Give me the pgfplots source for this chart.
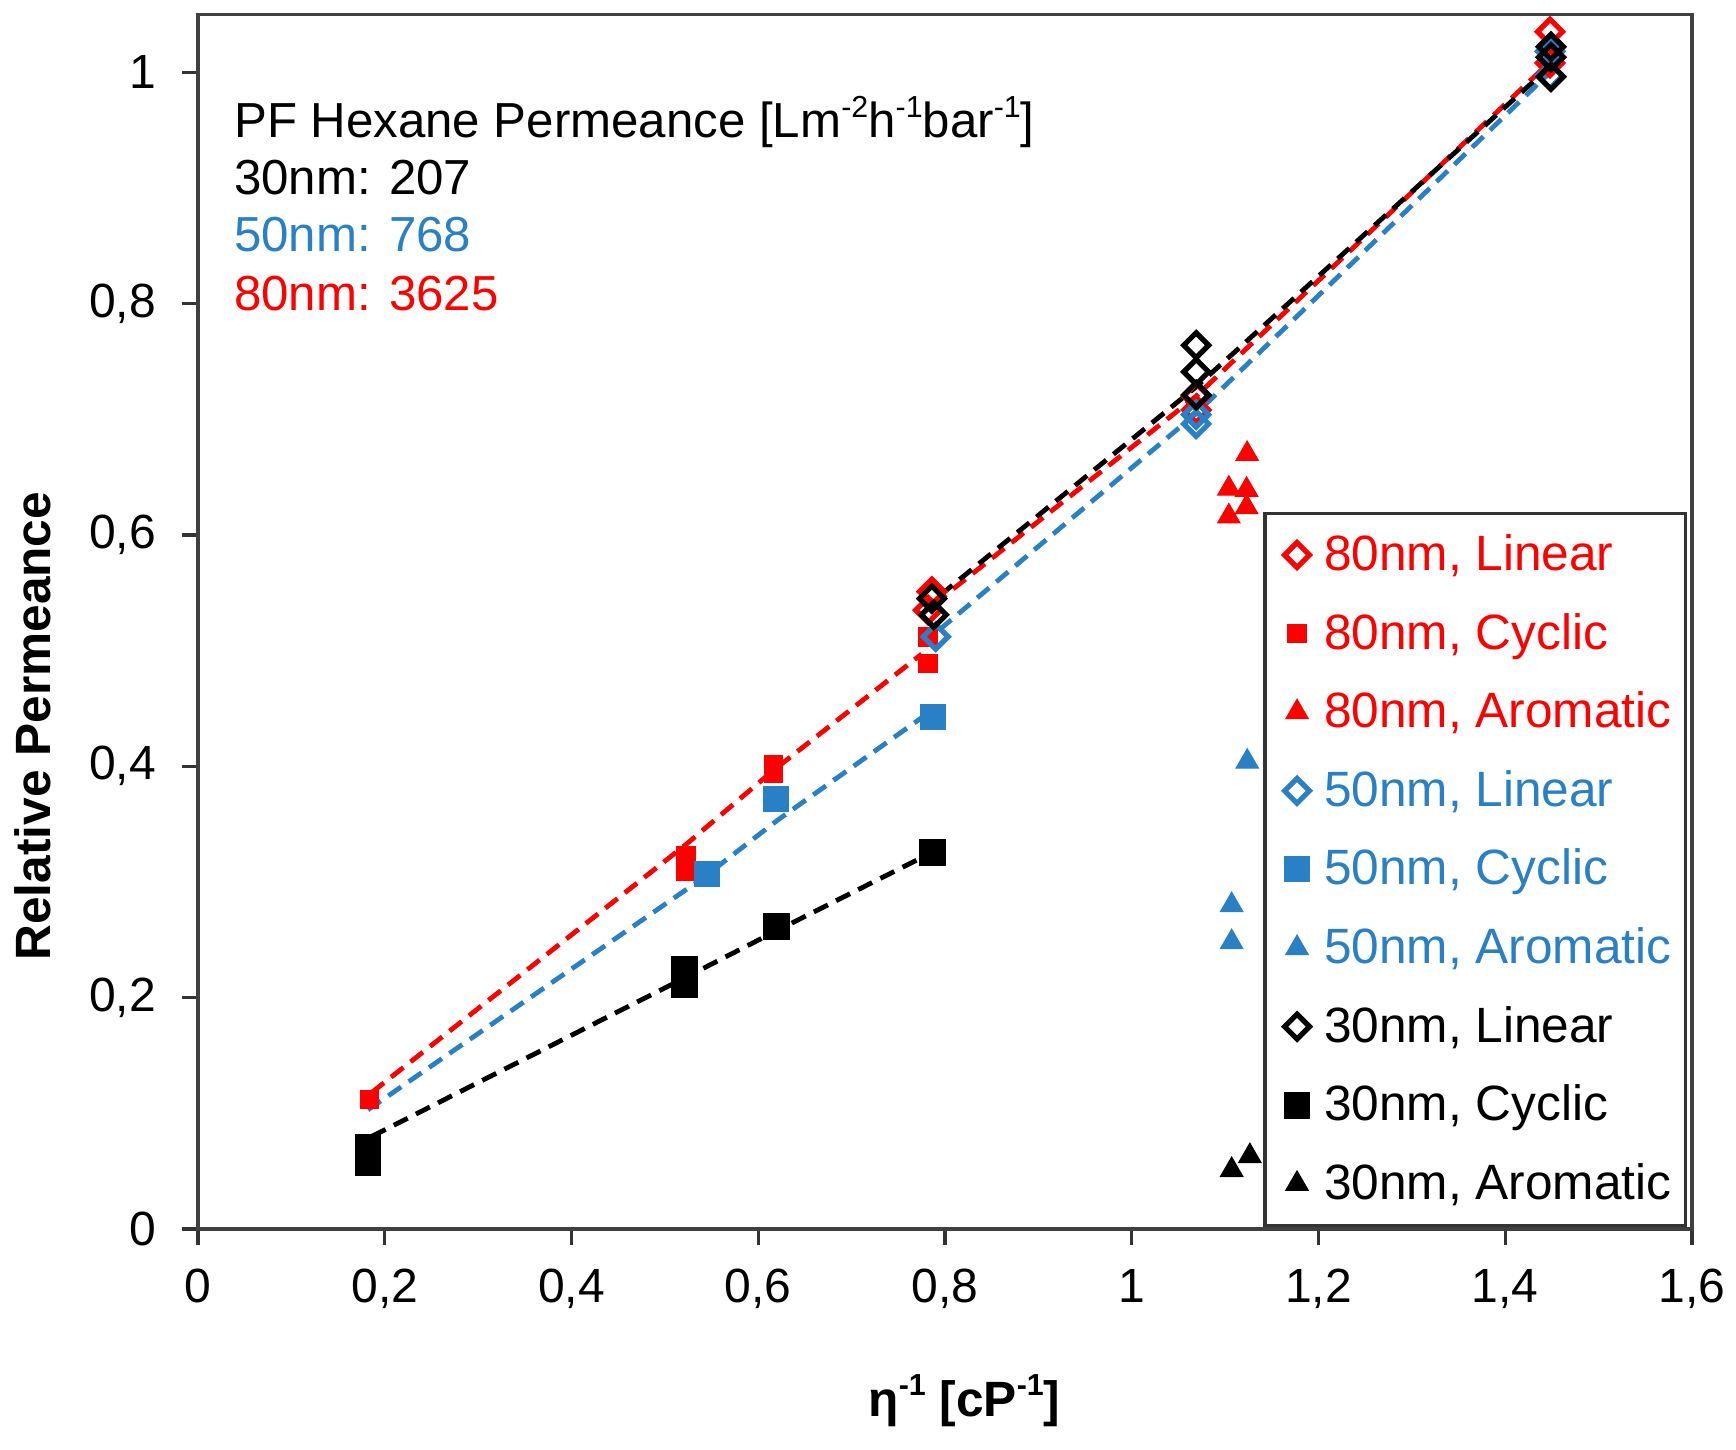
\documentclass[border=0pt]{standalone}
\usepackage{pgfplots}
\pgfplotsset{compat=1.18}
\usepackage{fontspec}
\setmainfont{Liberation Sans}
\definecolor{xred}{RGB}{255,0,0}
\definecolor{xblue}{RGB}{41,128,196}
\newcommand{\sps}[1]{\raisebox{0.42em}{\fontsize{7.6}{8}\selectfont #1}}
\tikzset{dline/.style={line width=1.2pt, dash pattern=on 3.9pt off 2.3pt, line cap=butt}}
\begin{document}
\begin{tikzpicture}
\useasboundingbox (-49.5pt,-55pt) rectangle (384.5pt,307.25pt);
\begin{axis}[
  scale only axis, width=373.5pt, height=303.65pt,
  xmin=0, xmax=1.6, ymin=0, ymax=1.05,
  xtick={0,0.2,0.4,0.6,0.8,1,1.2,1.4,1.6},
  ytick={0,0.2,0.4,0.6,0.8,1},
  tick pos=left, tick align=outside, major tick length=4pt,
  tick style={black!80, line width=0.8pt},
  axis line style={black!75, line width=0.8pt},
  /pgf/number format/use comma,
  /pgf/number format/assume math mode=true,
  tick label style={font=\fontsize{12}{14}\selectfont},
  yticklabel style={xshift=-3pt},
  xticklabel style={yshift=-2.5pt},
  label style={font=\fontsize{12.4}{14}\selectfont},
  ylabel={\textbf{Relative Permeance}},
  ylabel style={at={([xshift=-41.3pt]rel axis cs:0,0.414)}, anchor=center, rotate=0},
  xlabel={\textbf{η\sps{-1} [cP\sps{-1}]}},
  xlabel style={at={([yshift=-43pt]rel axis cs:0.513,0)}, anchor=center},
  legend cell align=left,
  legend style={at={(rel axis cs:0.9969,0.0018)}, anchor=south east,
    draw=black!80, line width=0.8pt, fill=white,
    inner xsep=3.6pt, inner ysep=4pt, row sep=6.95pt,
    font=\fontsize{12.4}{14}\selectfont,
    nodes={inner xsep=0pt, inner ysep=0pt, text height=10.2pt, text depth=2.5pt}},
  legend image code/.code={\path[draw=none, fill=none] (-4.4pt,0pt) rectangle (6.75pt,0pt); \draw[#1] plot coordinates {(0pt,0pt)};},
]
% ---------- 80 nm ----------
\addplot[forget plot, xred, dline] coordinates {(0.186,0.118) (0.522,0.332) (0.617,0.397) (0.775,0.497)};
\addplot[forget plot, xred, dline] coordinates {(0.788,0.540) (1.069,0.720) (1.448,1.009)};
\addplot[only marks, color=xred, mark=square, mark size=2.2pt, mark options={rotate=45, line width=1.3pt, solid}]
  coordinates {(0.786,0.551) (0.782,0.535) (1.069,0.720) (1.069,0.708) (1.448,1.035) (1.448,1.008)};
\addlegendentry{\textcolor{xred}{80nm, Linear}}
\addplot[only marks, color=xred, mark=square*, mark size=2.3pt, mark options={line width=0.3pt, solid}]
  coordinates {(0.1836,0.112) (0.5224,0.323) (0.5224,0.309) (0.6163,0.401) (0.6163,0.394) (0.7816,0.512) (0.7816,0.489)};
\addlegendentry{\textcolor{xred}{80nm, Cyclic}}
\addplot[only marks, color=xred, mark=triangle*, mark size=3.2pt, mark options={line width=0.3pt, solid}]
  coordinates {(1.1236,0.670) (1.104,0.640) (1.123,0.639) (1.104,0.616) (1.123,0.624)};
\addlegendentry{\textcolor{xred}{80nm, Aromatic}}
% ---------- 50 nm ----------
\addplot[forget plot, xblue, dline] coordinates {(0.182,0.103) (0.540,0.303) (0.620,0.353) (0.775,0.442)};
\addplot[forget plot, xblue, dline] coordinates {(0.794,0.518) (1.069,0.705) (1.448,1.000)};
\addplot[only marks, color=xblue, mark=square, mark size=2.2pt, mark options={rotate=45, line width=1.3pt, solid}]
  coordinates {(0.790,0.512) (1.069,0.704) (1.069,0.696) (1.448,1.018) (1.448,0.997)};
\addlegendentry{\textcolor{xblue}{50nm, Linear}}
\addplot[only marks, color=xblue, mark=square*, mark size=3.1pt, mark options={line width=0.3pt, solid}]
  coordinates {(0.5449,0.307) (0.6195,0.372) (0.787,0.443)};
\addlegendentry{\textcolor{xblue}{50nm, Cyclic}}
\addplot[only marks, color=xblue, mark=triangle*, mark size=3.2pt, mark options={line width=0.3pt, solid}]
  coordinates {(1.1237,0.404) (1.107,0.280) (1.107,0.248)};
\addlegendentry{\textcolor{xblue}{50nm, Aromatic}}
% ---------- 30 nm ----------
\addplot[forget plot, black, dline] coordinates {(0.186,0.080) (0.521,0.217) (0.620,0.258) (0.770,0.319)};
\addplot[forget plot, black, dline] coordinates {(0.795,0.548) (1.069,0.728) (1.448,1.005)};
\addplot[only marks, color=black, mark=square, mark size=2.2pt, mark options={rotate=45, line width=1.3pt, solid}]
  coordinates {(0.786,0.545) (0.788,0.531) (1.069,0.764) (1.069,0.741) (1.069,0.721) (1.449,1.022) (1.449,1.013) (1.449,0.996)};
\addlegendentry{\textcolor{black}{30nm, Linear}}
\addplot[only marks, color=black, mark=square*, mark size=3.2pt, mark options={line width=0.3pt, solid}]
  coordinates {(0.182,0.0704) (0.182,0.057) (0.5213,0.224) (0.5213,0.2116) (0.6195,0.2614) (0.787,0.3257)};
\addlegendentry{\textcolor{black}{30nm, Cyclic}}
\addplot[only marks, color=black, mark=triangle*, mark size=3.2pt, mark options={line width=0.3pt, solid}]
  coordinates {(1.1265,0.063) (1.107,0.051)};
\addlegendentry{\textcolor{black}{30nm, Aromatic}}
% ---------- annotation ----------
\node[anchor=base west, inner sep=0pt, font=\fontsize{12.3}{14}\selectfont] at (axis cs:0.0379,0.9433)
  {PF Hexane Permeance [Lm\sps{-2}h\sps{-1}bar\sps{-1}]};
\node[anchor=base west, inner sep=0pt, font=\fontsize{12.3}{14}\selectfont, text=black] at (axis cs:0.0379,0.8947) {30nm: 207};
\node[anchor=base west, inner sep=0pt, font=\fontsize{12.3}{14}\selectfont, text=xblue] at (axis cs:0.0379,0.8448) {50nm: 768};
\node[anchor=base west, inner sep=0pt, font=\fontsize{12.3}{14}\selectfont, text=xred] at (axis cs:0.0379,0.7942) {80nm: 3625};
\end{axis}
\end{tikzpicture}
\end{document}
